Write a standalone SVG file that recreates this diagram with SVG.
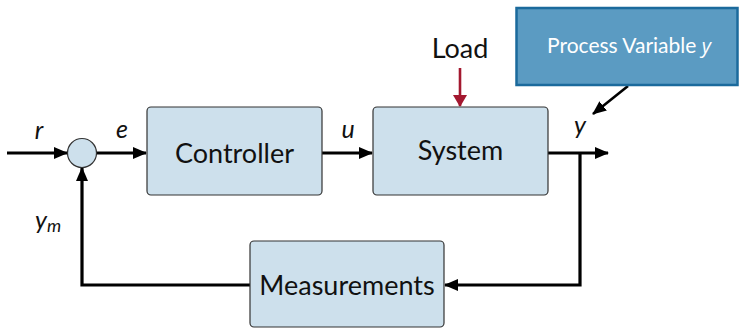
<svg xmlns="http://www.w3.org/2000/svg" width="740" height="328" viewBox="0 0 740 328">
  <defs>
    <marker id="arr" viewBox="0 0 14 12" refX="13" refY="6" markerWidth="14" markerHeight="12" markerUnits="userSpaceOnUse" orient="auto">
      <path d="M0,0 L14,6 L0,12 Z" fill="#000"/>
    </marker>
    <marker id="arrRed" viewBox="0 0 12 14" refX="11" refY="7" markerWidth="12" markerHeight="14" markerUnits="userSpaceOnUse" orient="auto">
      <path d="M0,0 L12,7 L0,14 Z" fill="#a3182f"/>
    </marker>
  </defs>
  <style>
    .block { fill: #cde0ec; stroke: #333; stroke-width: 1.2; }
    .lbl { font-family: Lato, "Open Sans", sans-serif; font-size: 27px; fill: #111; text-anchor: middle; }
    .var { font-family: Lato, "Open Sans", sans-serif; font-style: italic; font-size: 25px; fill: #111; text-anchor: middle; }
    .wire { fill: none; stroke: #000; stroke-width: 3.2; }
  </style>

  <g id="connectors">
    <line class="wire" x1="7" y1="153" x2="67" y2="153" marker-end="url(#arr)"/>
    <line class="wire" x1="96" y1="153" x2="146" y2="153" marker-end="url(#arr)"/>
    <line class="wire" x1="322" y1="153" x2="372" y2="153" marker-end="url(#arr)"/>
    <line class="wire" x1="548" y1="153" x2="608" y2="153" marker-end="url(#arr)"/>
    <polyline class="wire" points="580,153 580,285 445,285" marker-end="url(#arr)"/>
    <polyline class="wire" points="250,285 82,285 82,168" marker-end="url(#arr)"/>
    <line x1="460" y1="68" x2="460" y2="106" stroke="#a3182f" stroke-width="2.6" marker-end="url(#arrRed)"/>
    <line x1="628" y1="86" x2="593" y2="114" stroke="#000" stroke-width="2.6" marker-end="url(#arr)"/>
  </g>

  <g id="sum">
    <circle cx="82" cy="153" r="14.5" class="block"/>
  </g>

  <g id="controller">
    <rect x="147" y="107" width="175" height="88" rx="4" class="block"/>
    <text x="234.5" y="163" class="lbl">Controller</text>
  </g>

  <g id="system">
    <rect x="373" y="107" width="175" height="88" rx="4" class="block"/>
    <text x="460.5" y="160" class="lbl">System</text>
  </g>

  <g id="measurements">
    <rect x="250" y="241" width="194" height="86" rx="4" class="block"/>
    <text x="347" y="295" class="lbl">Measurements</text>
  </g>

  <g id="load">
    <text x="460" y="58" class="lbl">Load</text>
  </g>

  <g id="process-variable">
    <rect x="516.5" y="8" width="221" height="77" fill="#5b9bc2" stroke="#1b6a9c" stroke-width="2.5"/>
    <text x="629" y="53" font-family="Lato, 'Open Sans', sans-serif" font-size="21" fill="#ffffff" text-anchor="middle">Process Variable <tspan font-family="'Open Sans', sans-serif" font-style="italic" font-size="20">y</tspan></text>
  </g>

  <g id="signals">
    <text x="39" y="139" class="var">r</text>
    <text x="122" y="138" class="var">e</text>
    <text x="348" y="138" class="var">u</text>
    <text x="580" y="134" class="var">y</text>
    <text x="48" y="229" class="var">y<tspan font-size="18" dy="3">m</tspan></text>
  </g>
</svg>
